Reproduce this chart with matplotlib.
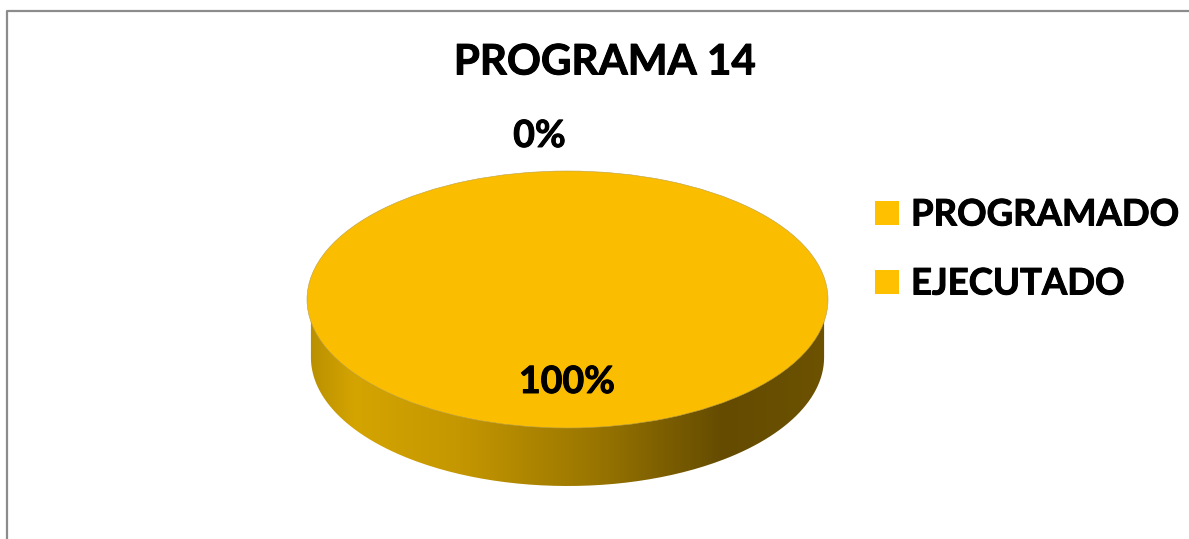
import numpy as np
import matplotlib
matplotlib.use("Agg")
import matplotlib.pyplot as plt
import matplotlib.patheffects as pe
from matplotlib.colors import LinearSegmentedColormap
from matplotlib.patches import Rectangle, PathPatch
from matplotlib.path import Path
from matplotlib.lines import Line2D

title = "PROGRAMA 14"
categories = ["PROGRAMADO", "EJECUTADO"]
values = [0, 100]
labels = ["0%", "100%"]
colors = ["#FFC000", "#FBBD00"]

W, H = 1189, 539
plt.rcParams["font.family"] = ["Lato", "DejaVu Sans"]
fig = plt.figure(figsize=(W / 100, H / 100), dpi=100, facecolor="white")

# full-figure pixel overlay for frame, texts and legend
bg = fig.add_axes([0, 0, 1, 1])
bg.set_xlim(0, W); bg.set_ylim(H, 0); bg.axis("off")
bg.add_line(Line2D([1189, 6.5, 6.5], [10.5, 10.5, 539], color="#8C8C8C", lw=1.6))

# pie region
cx, cy, rx, ry, depth = 567.5, 299.5, 260.5, 128.5, 58
ax = fig.add_axes([(cx - rx) / W, 1 - (cy + ry + depth) / H, 2 * rx / W, (2 * ry + depth) / H])
ax.axis("off")
d = depth / ry

# side wall with horizontal shading
t = np.linspace(np.pi, 2 * np.pi, 200)
sx = 0.985 * np.cos(t)
sy = np.sin(t)
verts = np.vstack([np.c_[sx, sy - d], [[sx[-1], 0.0], [sx[0], 0.0]]])
clip = PathPatch(Path(verts), fc="none", ec="none", transform=ax.transData)
ax.add_patch(clip)
cmap = LinearSegmentedColormap.from_list("side", [(0, "#B98F00"), (0.09, "#D4A400"), (0.28, "#C69800"),
                                                  (0.55, "#9A7600"), (0.8, "#644B00"), (1, "#6C5200")])
im = ax.imshow(np.linspace(0, 1, 512)[None, :], cmap=cmap, extent=[-1, 1, -1 - d, 0.2], aspect="auto", zorder=1)
im.set_clip_path(clip)

# pie top from the values; axes aspect flattens it into an ellipse
wedges, _ = ax.pie(values, colors=colors, startangle=90, counterclock=False,
                   radius=1, center=(0, 0), frame=False,
                   wedgeprops=dict(linewidth=0.4, edgecolor="#B8A050", zorder=2))
ax.set_aspect("auto")
ax.set_xlim(-1, 1)
ax.set_ylim(-1 - d, 1)

bold = [pe.withStroke(linewidth=0.7, foreground="black")]
bg.set_zorder(3)
bg.text(605, 62.5, title, fontsize=30.3, fontweight="bold", ha="center", va="center", color="black", path_effects=bold)
bg.text(539.5, 136, labels[0], fontsize=27, fontweight="bold", ha="center", va="center", color="black", path_effects=bold)
bg.text(567, 382, labels[1], fontsize=27, fontweight="bold", ha="center", va="center", color="black", path_effects=bold)
for name, y, c in zip(categories, [213, 282], colors[:1] * 2):
    bg.add_patch(Rectangle((875, y - 12), 24, 24, fc=c, ec="none"))
    bg.text(911, y + 2, name, fontsize=26.3, fontweight="bold", ha="left", va="center", color="black", path_effects=bold)

fig.savefig("out.png", dpi=100, facecolor="white")
